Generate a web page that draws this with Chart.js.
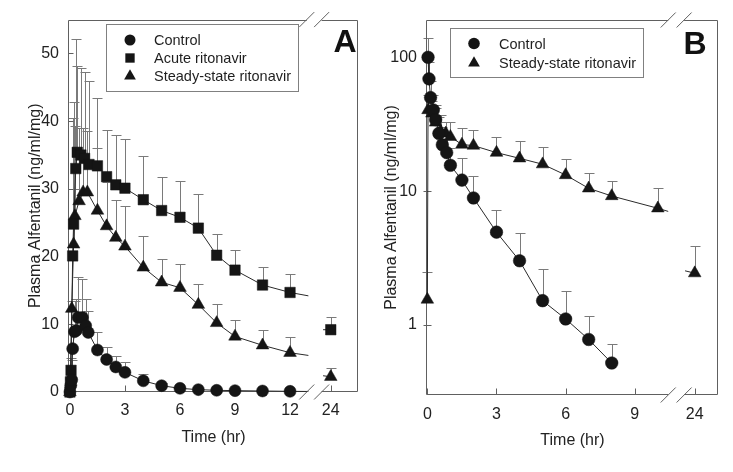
<!DOCTYPE html>
<html><head><meta charset="utf-8">
<script src="https://cdn.jsdelivr.net/npm/chart.js@4.4.1/dist/chart.umd.min.js"></script>
<style>
html,body{margin:0;padding:0;background:#fff;}
#wrap{position:relative;width:733px;height:472px;overflow:hidden;background:#fff;}
canvas{position:absolute;top:0;}
#ca{left:0;} #cb{left:366px;}
</style></head><body>
<div id="wrap"><canvas id="ca" width="366" height="472"></canvas><canvas id="cb" width="367" height="472"></canvas></div>
<script>
// ================= Panel A (linear) =================
const aXTickValues = [0, 3, 6, 9, 12, 24];
const aYTickValues = [0, 10, 20, 30, 40, 50];

const aControlTime  = [0,0.05,0.1,0.15,0.25,0.35,0.45,0.68,0.86,1,1.5,2,2.5,3,4,5,6,7,8,9,10.5,12];
const aControlConc  = [0,1.0,1.8,6.4,8.9,9.1,11.0,11.0,9.8,8.8,6.2,4.8,3.7,2.9,1.65,0.93,0.54,0.35,0.25,0.2,0.15,0.1];
const aControlUpper = [0,1.5,4.7,9.0,13.4,13.7,17.0,16.7,13.7,12.0,8.9,6.7,5.3,4.4,2.7,1.3,0.8,0.5,0.4,0.3,0.25,0.2];

const aAcuteTime  = [0,0.03,0.06,0.15,0.2,0.32,0.4,0.6,0.8,1.04,1.5,2,2.5,3,4,5,6,7,8,9,10.5,12,24];
const aAcuteConc  = [0,1.5,3.2,20.1,24.8,33.0,35.4,35.0,34.5,33.6,33.4,31.8,30.6,30.1,28.4,26.8,25.8,24.2,20.2,18.0,15.8,14.7,9.2];
const aAcuteUpper = [0,2.0,5.0,40.4,42.8,52.2,48.2,47.9,47.2,45.9,43.4,38.7,38.0,37.4,34.8,31.8,31.1,29.3,23.4,21.0,18.5,17.4,11.1];

const aSteadyTime  = [0,0.1,0.2,0.27,0.5,0.72,0.95,1.5,2,2.5,3,4,5,6,7,8,9,10.5,12,24];
const aSteadyConc  = [0,12.3,21.8,26.0,28.2,29.5,29.5,26.8,24.5,22.8,21.5,18.4,16.2,15.4,12.9,10.2,8.2,6.9,5.8,2.25];
const aSteadyUpper = [0,13.4,30.0,39.3,39.0,39.0,38.5,36.1,31.0,28.3,27.5,23.0,19.6,18.9,16.0,13.0,10.7,9.1,8.1,3.5];

// fitted-curve ends (axis position, value)
const aCurveEndPos = 13.0;
const aControlCurveEnd = 0.08, aAcuteCurveEnd = 14.2, aSteadyCurveEnd = 5.4;
const aTail24StartPos = 13.8;
const aAcuteTail24Start = 9.2, aSteadyTail24Start = 2.4;

// ================= Panel B (log) =================
const bXTickValues = [0, 3, 6, 9, 24];
const bYTickValues = [1, 10, 100];

const bControlTime  = [0.03,0.07,0.14,0.26,0.36,0.5,0.65,0.84,1,1.5,2,3,4,5,6,7,8];
const bControlConc  = [100,69,50,40.4,34.2,27.0,22.2,19.4,15.6,12.1,8.9,4.94,3.02,1.52,1.11,0.78,0.52];
const bControlUpper = [139,92,66,52,44,36,30,26,21,17.6,12.9,7.25,4.86,2.62,1.78,1.16,0.72];

const bSteadyTime  = [0,0.03,0.2,0.36,0.58,0.8,1,1.5,2,3,4,5,6,7,8,10,24];
const bSteadyConc  = [1.55,40.4,38.1,32.6,27.9,27.0,25.5,22.3,21.9,19.4,17.6,15.9,13.2,10.5,9.2,7.45,2.44];
const bSteadyUpper = [2.47,52,47,42,37,33,32.7,29.5,28.7,25.5,23.7,21.2,17.3,13.7,11.9,10.6,3.86];

const bCurveEndPos = 10.45, bSteadyCurveEnd = 7.06;
const bTail24StartPos = 11.18, bSteadyTail24Start = 2.54;

// axis position of the "24 hr" point after the break
const A_POS24 = 14.22, B_POS24 = 11.6;
const posA = t => (t === 24 ? A_POS24 : t);
const posB = t => (t === 24 ? B_POS24 : t);

Chart.defaults.font.family = '"Liberation Sans", Arial, Helvetica, sans-serif';
Chart.defaults.color = '#222';

const MARK = '#151515', LINE = '#2a2a2a', FRAME = '#606060';

function pts(times, vals, pos, maxT) {
  const out = [];
  times.forEach((t, i) => { if (maxT === undefined || t <= maxT) out.push({x: pos(t), y: vals[i]}); });
  return out;
}
function markerDs(label, times, vals, upper, pos, style, r, legendR) {
  return {label, data: pts(times, vals, pos), upper, inLegend: true, legendR, showLine: false,
    pointStyle: style, pointRadius: r, pointHoverRadius: r, backgroundColor: MARK, borderColor: MARK,
    borderWidth: 0.5, clip: false};
}
function lineDs(data) {
  return {label: '', data, showLine: true, pointRadius: 0, borderColor: LINE, borderWidth: 1,
    tension: 0, clip: false, fill: false};
}

function drawMarker(ctx, style, r, x, y) {
  ctx.beginPath();
  if (style === 'circle') { ctx.arc(x, y, r, 0, Math.PI * 2); }
  else if (style === 'rect') { const h = r * Math.SQRT1_2; ctx.rect(x - h, y - h, 2 * h, 2 * h); }
  else if (style === 'triangle') {
    let a = 0; ctx.moveTo(x + Math.sin(a) * r, y - Math.cos(a) * r);
    a += 2 * Math.PI / 3; ctx.lineTo(x + Math.sin(a) * r, y - Math.cos(a) * r);
    a += 2 * Math.PI / 3; ctx.lineTo(x + Math.sin(a) * r, y - Math.cos(a) * r);
    ctx.closePath();
  }
  ctx.fillStyle = MARK; ctx.fill();
}

const decor = {
  id: 'decor',
  beforeDatasetsDraw(chart) {
    const o = chart.options.plugins.decor, ctx = chart.ctx;
    const {left, right, top, bottom} = chart.chartArea;
    const xs = chart.scales.x, ys = chart.scales.y;
    ctx.save();
    // error bars (upper only)
    ctx.strokeStyle = '#7a7a7a'; ctx.lineWidth = 1;
    chart.data.datasets.forEach((ds, i) => {
      if (!ds.upper) return;
      const meta = chart.getDatasetMeta(i);
      meta.data.forEach((pt, j) => {
        const yu = ys.getPixelForValue(ds.upper[j]);
        if (!(yu < pt.y - 1)) return;
        const x = Math.round(pt.x) + 0.5, yy = Math.round(yu) + 0.5;
        ctx.beginPath(); ctx.moveTo(x, pt.y); ctx.lineTo(x, yy);
        ctx.moveTo(x - 5, yy); ctx.lineTo(x + 5, yy); ctx.stroke();
      });
    });
    // frame with gaps at the axis break
    const g1 = xs.getPixelForValue(o.breakAt[0]), g2 = xs.getPixelForValue(o.breakAt[1]);
    const L = Math.round(left) - 0.5, R = Math.round(right) - 0.5, T = Math.round(top) + 0.5, B = Math.round(bottom) - 0.5;
    ctx.strokeStyle = FRAME; ctx.lineWidth = 1;
    ctx.beginPath();
    ctx.moveTo(L, T); ctx.lineTo(L, B);
    ctx.moveTo(R, T); ctx.lineTo(R, B);
    ctx.moveTo(L, T); ctx.lineTo(g1, T); ctx.moveTo(g2, T); ctx.lineTo(R, T);
    ctx.moveTo(L, B); ctx.lineTo(g1, B); ctx.moveTo(g2, B); ctx.lineTo(R, B);
    ctx.stroke();
    // inward tick marks
    ctx.beginPath();
    o.xTicks.forEach(v => { const p = Math.round(xs.getPixelForValue(v)) + 0.5; ctx.moveTo(p, B); ctx.lineTo(p, B - 6); });
    o.yTicks.forEach(v => { const p = Math.round(ys.getPixelForValue(v)) + 0.5; ctx.moveTo(L - o.yTickOut, p); ctx.lineTo(L + 5, p); });
    ctx.stroke();
    ctx.restore();
  },
  afterDatasetsDraw(chart) {
    const o = chart.options.plugins.decor, ctx = chart.ctx;
    const {top, bottom} = chart.chartArea;
    const xs = chart.scales.x;
    ctx.save();
    // break slashes
    ctx.strokeStyle = FRAME; ctx.lineWidth = 1;
    ctx.beginPath();
    o.breakAt.forEach(v => {
      const gx = xs.getPixelForValue(v);
      [top, bottom].forEach(y => { ctx.moveTo(gx - 7.5, y + 7.5); ctx.lineTo(gx + 7.5, y - 7.5); });
    });
    ctx.stroke();
    // legend box
    const lg = o.legend;
    ctx.fillStyle = '#fff';
    ctx.fillRect(lg.box[0], lg.box[1], lg.box[2] - lg.box[0], lg.box[3] - lg.box[1]);
    ctx.strokeStyle = '#808080';
    ctx.strokeRect(lg.box[0] + 0.5, lg.box[1] + 0.5, lg.box[2] - lg.box[0], lg.box[3] - lg.box[1]);
    let k = 0;
    chart.data.datasets.forEach(ds => {
      if (!ds.inLegend) return;
      const y = lg.rows[k++];
      drawMarker(ctx, ds.pointStyle, ds.legendR, lg.markerX, y);
      ctx.fillStyle = '#1e1e1e'; ctx.font = lg.font; ctx.textBaseline = 'middle'; ctx.textAlign = 'left';
      ctx.fillText(ds.label, lg.textX, y + 1);
    });
    // panel letter
    ctx.fillStyle = '#111'; ctx.font = 'bold 32px "Liberation Sans", Arial, sans-serif';
    ctx.textAlign = 'center'; ctx.textBaseline = 'alphabetic';
    ctx.fillText(o.letter.text, o.letter.x, o.letter.y);
    ctx.restore();
  }
};

function axisTitle(text, pad) { return {display: true, text, color: '#222', font: {size: 16}, padding: pad}; }

// ---------- Chart A ----------
const aCtrlLine = pts(aControlTime, aControlConc, posA, 12).concat([{x: aCurveEndPos, y: aControlCurveEnd}]);
const aAcuteLine = pts(aAcuteTime, aAcuteConc, posA, 12).concat([{x: aCurveEndPos, y: aAcuteCurveEnd}]);
const aSteadyLine = pts(aSteadyTime, aSteadyConc, posA, 12).concat([{x: aCurveEndPos, y: aSteadyCurveEnd}]);
const aAcuteTail = [{x: aTail24StartPos, y: aAcuteTail24Start}, {x: posA(24), y: aAcuteConc[aAcuteConc.length - 1]}];
const aSteadyTail = [{x: aTail24StartPos, y: aSteadyTail24Start}, {x: posA(24), y: aSteadyConc[aSteadyConc.length - 1]}];

new Chart(document.getElementById('ca'), {
  type: 'scatter',
  data: {datasets: [
    markerDs('Control', aControlTime, aControlConc, aControlUpper, posA, 'circle', 6, 5.5),
    markerDs('Acute ritonavir', aAcuteTime, aAcuteConc, aAcuteUpper, posA, 'rect', 7.4, 6.6),
    markerDs('Steady-state ritonavir', aSteadyTime, aSteadyConc, aSteadyUpper, posA, 'triangle', 7.3, 6.8),
    lineDs(aCtrlLine), lineDs(aAcuteLine), lineDs(aSteadyLine), lineDs(aAcuteTail), lineDs(aSteadyTail)
  ]},
  options: {
    responsive: false, animation: false, devicePixelRatio: 1, events: [],
    layout: {padding: {top: 17, right: 5, left: 0, bottom: 0}},
    plugins: {legend: {display: false}, tooltip: {enabled: false},
      decor: {breakAt: [12.91, 13.72], xTicks: aXTickValues.map(posA), yTicks: aYTickValues, yTickOut: 0,
        legend: {box: [106, 24, 298, 91], markerX: 130, textX: 154, rows: [40, 58, 76], font: '14.5px "Liberation Sans", Arial, sans-serif'},
        letter: {text: 'A', x: 345, y: 52}}},
    scales: {
      x: {type: 'linear', min: -0.05, max: 15.71,
        grid: {display: false, drawTicks: false}, border: {display: false},
        afterBuildTicks: s => { s.ticks = aXTickValues.map(t => ({value: posA(t)})); },
        afterFit: s => { s.height = 80; },
        ticks: {autoSkip: false, maxRotation: 0, padding: 9, color: '#222', font: {size: 16},
          callback: (v, i) => String(aXTickValues[i])},
        title: axisTitle('Time (hr)', {top: 0, bottom: 24.4})},
      y: {type: 'linear', min: 0, max: 55,
        grid: {display: false, drawTicks: false}, border: {display: false},
        afterBuildTicks: s => { s.ticks = aYTickValues.map(v => ({value: v})); },
        afterFit: s => { s.width = 69; },
        ticks: {autoSkip: false, padding: 10, color: '#222', font: {size: 16}, callback: v => String(v)},
        title: axisTitle('Plasma Alfentanil (ng/ml/mg)', {top: 26, bottom: 0})}
    }
  },
  plugins: [decor]
});

// ---------- Chart B ----------
const bCtrlLine = pts(bControlTime, bControlConc, posB, 12);
const bSteadyLine = pts(bSteadyTime, bSteadyConc, posB, 12).concat([{x: bCurveEndPos, y: bSteadyCurveEnd}]);
const bSteadyTail = [{x: bTail24StartPos, y: bSteadyTail24Start}, {x: posB(24), y: bSteadyConc[bSteadyConc.length - 1]}];

new Chart(document.getElementById('cb'), {
  type: 'scatter',
  data: {datasets: [
    markerDs('Control', bControlTime, bControlConc, bControlUpper, posB, 'circle', 6.3, 5.8),
    markerDs('Steady-state ritonavir', bSteadyTime, bSteadyConc, bSteadyUpper, posB, 'triangle', 7.3, 6.8),
    lineDs(bCtrlLine), lineDs(bSteadyLine), lineDs(bSteadyTail)
  ]},
  options: {
    responsive: false, animation: false, devicePixelRatio: 1, events: [],
    layout: {padding: {top: 20, right: 15, left: 0, bottom: 0}},
    plugins: {legend: {display: false}, tooltip: {enabled: false},
      decor: {breakAt: [10.45, 11.14], xTicks: bXTickValues.map(posB), yTicks: bYTickValues, yTickOut: 3,
        legend: {box: [84, 28, 277, 77], markerX: 108, textX: 133, rows: [43.5, 63], font: '14.5px "Liberation Sans", Arial, sans-serif'},
        letter: {text: 'B', x: 329, y: 54}}},
    scales: {
      x: {type: 'linear', min: -0.015, max: 12.61,
        grid: {display: false, drawTicks: false}, border: {display: false},
        afterBuildTicks: s => { s.ticks = bXTickValues.map(t => ({value: posB(t)})); },
        afterFit: s => { s.height = 77; },
        ticks: {autoSkip: false, maxRotation: 0, padding: 9.5, color: '#222', font: {size: 16},
          callback: (v, i) => String(bXTickValues[i])},
        title: axisTitle('Time (hr)', {top: 0, bottom: 21.7})},
      y: {type: 'logarithmic', min: 0.302, max: 190,
        grid: {display: false, drawTicks: false}, border: {display: false},
        afterBuildTicks: s => { s.ticks = bYTickValues.map(v => ({value: v})); },
        afterFit: s => { s.width = 61; },
        ticks: {autoSkip: false, padding: 10, color: '#222', font: {size: 16}, callback: v => String(v)},
        title: axisTitle('Plasma Alfentanil (ng/ml/mg)', {top: 16.4, bottom: 0})}
    }
  },
  plugins: [decor]
});
</script>
</body></html>
